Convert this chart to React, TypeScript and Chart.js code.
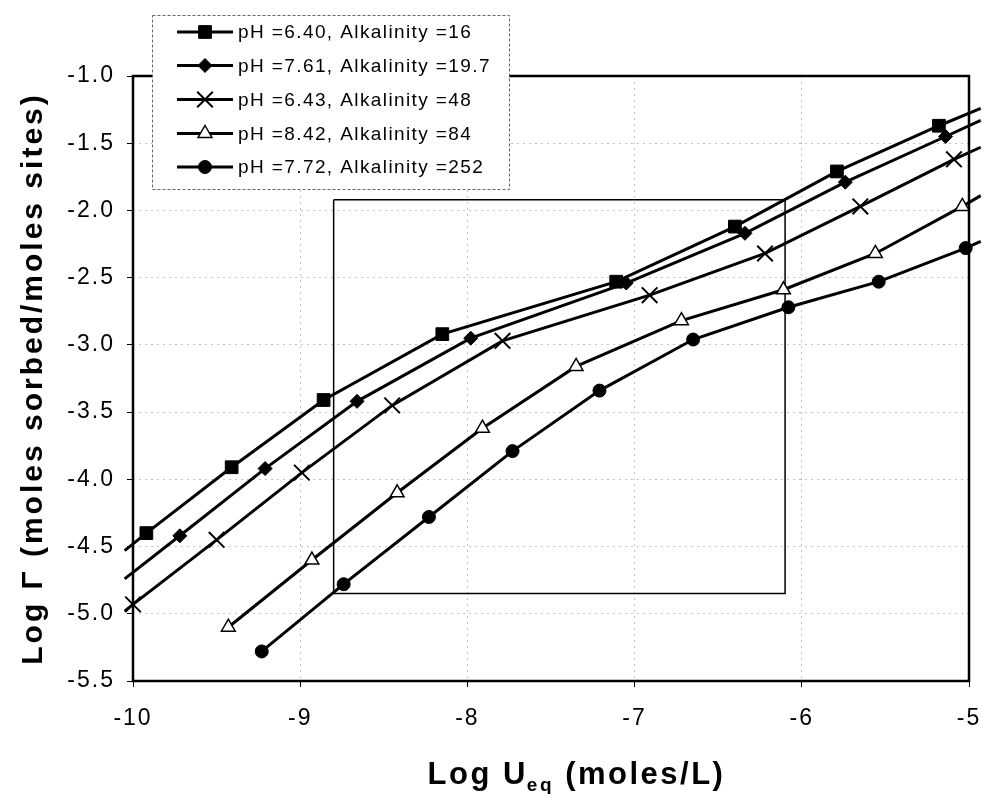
import React, { useEffect, useRef } from 'react';
import { Chart, registerables } from 'chart.js';

Chart.register(...registerables);

const seriesLabels = [
  'pH =6.40, Alkalinity =16',
  'pH =7.61, Alkalinity =19.7',
  'pH =6.43, Alkalinity =48',
  'pH =8.42, Alkalinity =84',
  'pH =7.72, Alkalinity =252',
];

// M = 1 : point carries a marker, 0 : line continuation only
const s1X = [-10.05, -9.92, -9.41, -8.86, -8.15, -7.11, -6.40, -5.79, -5.18, -4.93];
const s1Y = [-4.53, -4.40, -3.91, -3.41, -2.92, -2.53, -2.12, -1.71, -1.37, -1.24];
const s1M = [0, 1, 1, 1, 1, 1, 1, 1, 1, 0];

const s2X = [-10.05, -9.72, -9.21, -8.66, -7.98, -7.05, -6.34, -5.74, -5.14, -4.93];
const s2Y = [-4.74, -4.42, -3.92, -3.42, -2.95, -2.54, -2.17, -1.79, -1.45, -1.33];
const s2M = [0, 1, 1, 1, 1, 1, 1, 1, 1, 0];

const s3X = [-10.05, -10.0, -9.5, -8.99, -8.45, -7.79, -6.91, -6.22, -5.65, -5.09, -4.93];
const s3Y = [-4.98, -4.93, -4.45, -3.95, -3.45, -2.97, -2.63, -2.32, -1.97, -1.62, -1.53];
const s3M = [0, 1, 1, 1, 1, 1, 1, 1, 1, 1, 0];

const s4X = [-9.43, -8.93, -8.42, -7.91, -7.35, -6.72, -6.11, -5.56, -5.04, -4.93];
const s4Y = [-5.1, -4.6, -4.1, -3.62, -3.16, -2.82, -2.59, -2.32, -1.97, -1.89];
const s4M = [1, 1, 1, 1, 1, 1, 1, 1, 1, 0];

const s5X = [-9.23, -8.74, -8.23, -7.73, -7.21, -6.65, -6.08, -5.54, -5.02, -4.93];
const s5Y = [-5.28, -4.78, -4.28, -3.79, -3.34, -2.96, -2.72, -2.53, -2.28, -2.23];
const s5M = [1, 1, 1, 1, 1, 1, 1, 1, 1, 0];

const boxX = [-8.8, -6.1, -6.1, -8.8, -8.8];
const boxY = [-1.92, -1.92, -4.85, -4.85, -1.92];

const xMin = -10;
const xMax = -5;
const xStep = 1;
const yMin = -5.5;
const yMax = -1.0;
const yStep = 0.5;

const yTitle = 'Log Γ (moles sorbed/moles sites)';
const xTitleMain = 'Log U';
const xTitleSub = 'eq';
const xTitleTail = ' (moles/L)';

const FONT = "'Liberation Sans', Arial, Helvetica, sans-serif";

const zip = (xs: number[], ys: number[]) => xs.map((x, i) => ({ x, y: ys[i] }));

type Style = 'rect' | 'rectRot' | 'crossRot' | 'triangle' | 'circle';
const styles: Style[] = ['rect', 'rectRot', 'crossRot', 'triangle', 'circle'];
const radii = [9, 7, 11, 8, 6.5];
const fills = ['#000', '#000', '#000', '#fff', '#000'];
const pointBW = [1, 1, 2, 1.5, 1];

function drawMarker(ctx: CanvasRenderingContext2D, style: Style, x: number, y: number, i: number) {
  ctx.save();
  ctx.fillStyle = fills[i];
  ctx.strokeStyle = '#000';
  ctx.lineWidth = pointBW[i];
  ctx.beginPath();
  const r = radii[i];
  if (style === 'rect') {
    const s = r * Math.SQRT1_2;
    ctx.rect(x - s, y - s, 2 * s, 2 * s);
    ctx.fill();
    ctx.stroke();
  } else if (style === 'rectRot') {
    ctx.moveTo(x - r, y);
    ctx.lineTo(x, y - r);
    ctx.lineTo(x + r, y);
    ctx.lineTo(x, y + r);
    ctx.closePath();
    ctx.fill();
    ctx.stroke();
  } else if (style === 'crossRot') {
    const s = r * Math.SQRT1_2;
    ctx.moveTo(x - s, y - s);
    ctx.lineTo(x + s, y + s);
    ctx.moveTo(x + s, y - s);
    ctx.lineTo(x - s, y + s);
    ctx.stroke();
  } else if (style === 'triangle') {
    ctx.moveTo(x, y - r);
    ctx.lineTo(x + r * 0.866, y + r * 0.5);
    ctx.lineTo(x - r * 0.866, y + r * 0.5);
    ctx.closePath();
    ctx.fill();
    ctx.stroke();
  } else {
    ctx.arc(x, y, r, 0, Math.PI * 2);
    ctx.fill();
    ctx.stroke();
  }
  ctx.restore();
}

const decorPlugin = {
  id: 'decor',
  beforeDraw(chart: any) {
    (chart.ctx as any).letterSpacing = '2px';
  },
  beforeDatasetsDraw(chart: any) {
    const { ctx, chartArea: a } = chart;
    ctx.save();
    ctx.strokeStyle = '#000';
    ctx.lineWidth = 2.5;
    ctx.strokeRect(a.left, a.top, a.right - a.left, a.bottom - a.top);
    ctx.restore();
  },
  afterDraw(chart: any) {
    const { ctx, chartArea: a } = chart;
    ctx.save();
    ctx.fillStyle = '#000';
    // Y title
    ctx.save();
    ctx.translate(34, (a.top + a.bottom) / 2);
    ctx.rotate(-Math.PI / 2);
    ctx.font = `bold 30px ${FONT}`;
    (ctx as any).letterSpacing = '3px';
    ctx.textAlign = 'center';
    ctx.textBaseline = 'middle';
    ctx.fillText(yTitle, 0, 0);
    ctx.restore();

    // X title with subscript
    (ctx as any).letterSpacing = '2.5px';
    const big = `bold 31px ${FONT}`;
    const small = `bold 19px ${FONT}`;
    ctx.textBaseline = 'alphabetic';
    ctx.textAlign = 'left';
    ctx.font = big;
    const w1 = ctx.measureText(xTitleMain).width;
    const w3 = ctx.measureText(xTitleTail).width;
    ctx.font = small;
    const w2 = ctx.measureText(xTitleSub).width;
    const total = w1 + w2 + w3;
    let x = 577 - total / 2;
    const base = 784;
    ctx.font = big;
    ctx.fillText(xTitleMain, x, base);
    x += w1 - 1;
    ctx.font = small;
    ctx.fillText(xTitleSub, x, base + 7);
    x += w2;
    ctx.font = big;
    ctx.fillText(xTitleTail, x, base);

    // Legend
    const lx = 152, ly = 15, lw = 357, lh = 174;
    ctx.fillStyle = '#fff';
    ctx.fillRect(lx, ly, lw, lh);
    ctx.strokeStyle = '#666';
    ctx.lineWidth = 1;
    ctx.setLineDash([3, 2]);
    ctx.strokeRect(lx + 0.5, ly + 0.5, lw, lh);
    ctx.setLineDash([]);
    const rowY = [32, 65.5, 99.5, 133.5, 167];
    seriesLabels.forEach((label, i) => {
      const y = rowY[i];
      ctx.strokeStyle = '#000';
      ctx.lineWidth = 3;
      ctx.beginPath();
      ctx.moveTo(177, y);
      ctx.lineTo(233, y);
      ctx.stroke();
      drawMarker(ctx, styles[i], 205, y, i);
      ctx.fillStyle = '#000';
      ctx.font = `19px ${FONT}`;
      (ctx as any).letterSpacing = '1.4px';
      ctx.textBaseline = 'middle';
      ctx.textAlign = 'left';
      ctx.fillText(label, 238, y + 1);
    });
    ctx.restore();
    (ctx as any).letterSpacing = '0px';
  },
};

export default function App() {
  const ref = useRef<HTMLCanvasElement>(null);
  useEffect(() => {
    if (!ref.current) return;
    const series = [
      [s1X, s1Y, s1M],
      [s2X, s2Y, s2M],
      [s3X, s3Y, s3M],
      [s4X, s4Y, s4M],
      [s5X, s5Y, s5M],
    ] as number[][][];
    const datasets: any[] = series.map(([xs, ys, ms], i) => ({
      label: seriesLabels[i],
      data: zip(xs, ys),
      showLine: true,
      borderColor: '#000',
      borderWidth: 3,
      tension: 0,
      clip: false,
      pointStyle: styles[i],
      pointRadius: (c: any) => (ms[c.dataIndex] ? radii[i] : 0),
      pointBackgroundColor: fills[i],
      pointBorderColor: '#000',
      pointBorderWidth: pointBW[i],
      order: 1,
    }));
    datasets.push({
      label: 'box',
      data: zip(boxX, boxY),
      showLine: true,
      borderColor: '#000',
      borderWidth: 1.5,
      pointRadius: 0,
      tension: 0,
      clip: false,
      order: 2,
    });
    const chart = new Chart(ref.current, {
      type: 'scatter',
      data: { datasets },
      plugins: [decorPlugin],
      options: {
        responsive: false,
        animation: false,
        events: [],
        layout: { padding: { top: 76, right: 18, left: 0, bottom: 0 } },
        plugins: { legend: { display: false }, tooltip: { enabled: false }, title: { display: false } },
        scales: {
          x: {
            type: 'linear',
            min: xMin,
            max: xMax,
            ticks: {
              stepSize: xStep,
              color: '#000',
              font: { size: 23, family: FONT },
              padding: 18,
            },
            grid: { color: '#c4c4c4', lineWidth: 1, tickLength: 6, tickColor: '#000', tickWidth: 1 },
            border: { display: false, dash: [2, 4] },
            afterFit: (s: any) => {
              s.height = 113;
              s.paddingLeft = 0;
              s.paddingRight = 0;
            },
          },
          y: {
            type: 'linear',
            min: yMin,
            max: yMax,
            ticks: {
              stepSize: yStep,
              color: '#000',
              font: { size: 23, family: FONT },
              padding: 12,
              callback: (v: any) => Number(v).toFixed(1),
            },
            grid: { color: '#c4c4c4', lineWidth: 1, tickLength: 6, tickColor: '#000', tickWidth: 1 },
            border: { display: false, dash: [2, 4] },
            afterFit: (s: any) => {
              s.width = 133;
              s.paddingTop = 0;
              s.paddingBottom = 0;
            },
          },
        },
      },
    } as any);
    return () => chart.destroy();
  }, []);
  return (
    <div style={{ position: 'absolute', left: 0, top: 0, width: 987, height: 794, background: '#fff' }}>
      <canvas ref={ref} width={987} height={794} style={{ display: 'block' }} />
    </div>
  );
}
